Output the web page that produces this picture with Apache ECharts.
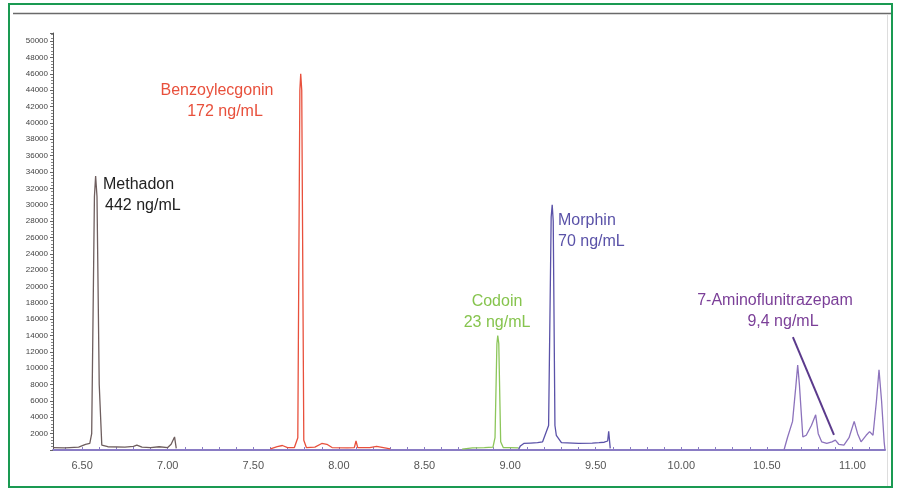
<!DOCTYPE html>
<html>
<head>
<meta charset="utf-8">
<script src="https://cdn.jsdelivr.net/npm/echarts@6/dist/echarts.min.js"></script>
<style>html,body{margin:0;padding:0;background:#fff}#c{width:898px;height:492px}</style>
</head>
<body>
<div id="c"></div>
<script>
// ---- data (retention time in min, intensity) ----
const methadonT = [6.33, 6.40, 6.48, 6.52, 6.545, 6.556, 6.572, 6.579, 6.587, 6.60, 6.615, 6.65, 6.75, 6.80, 6.82, 6.85, 6.90, 6.95, 7.00, 7.02, 7.04, 7.05];
const methadonI = [300, 250, 350, 700, 800, 2000, 31000, 33500, 31000, 8000, 600, 400, 350, 450, 600, 350, 300, 400, 300, 700, 1600, 200];

const benzoT = [7.60, 7.64, 7.67, 7.70, 7.74, 7.76, 7.772, 7.777, 7.783, 7.795, 7.81, 7.86, 7.90, 7.93, 7.96, 8.05, 8.09, 8.10, 8.11, 8.18, 8.22, 8.26, 8.30];
const benzoI = [150, 400, 550, 300, 300, 1500, 44000, 46000, 44000, 1200, 300, 350, 800, 700, 300, 250, 300, 1100, 300, 300, 450, 300, 150];

const codoinT = [8.72, 8.78, 8.85, 8.90, 8.912, 8.923, 8.928, 8.934, 8.945, 8.96, 9.00, 9.05];
const codoinI = [100, 250, 300, 350, 1500, 13000, 14000, 13000, 1000, 300, 300, 250];

const morphinT = [9.05, 9.06, 9.08, 9.12, 9.16, 9.19, 9.20, 9.225, 9.240, 9.246, 9.252, 9.262, 9.27, 9.28, 9.30, 9.40, 9.48, 9.52, 9.55, 9.57, 9.576, 9.585];
const morphinI = [100, 500, 800, 850, 900, 1000, 1200, 3000, 28500, 30000, 28000, 3000, 1800, 1600, 900, 800, 850, 900, 950, 1100, 2300, 200];

const aminoT = [10.60, 10.62, 10.65, 10.67, 10.68, 10.69, 10.71, 10.73, 10.76, 10.785, 10.80, 10.82, 10.85, 10.88, 10.90, 10.92, 10.95, 10.98, 11.01, 11.03, 11.05, 11.08, 11.10, 11.12, 11.14, 11.155, 11.17, 11.185, 11.19];
const aminoI = [0, 1500, 3500, 8000, 10400, 8000, 1600, 1800, 3000, 4300, 2000, 1000, 800, 1000, 1200, 700, 600, 1500, 3500, 2000, 1000, 1800, 2250, 1800, 6000, 9800, 6000, 1000, 0];

const xLabelValues = [6.5, 7.0, 7.5, 8.0, 8.5, 9.0, 9.5, 10.0, 10.5, 11.0];
const xTickValues = [6.4, 6.5, 6.6, 6.7, 6.8, 6.9, 7.0, 7.1, 7.2, 7.3, 7.4, 7.5, 7.6, 7.7, 7.8, 7.9, 8.0, 8.1, 8.2, 8.3, 8.4, 8.5, 8.6, 8.7, 8.8, 8.9, 9.0, 9.1, 9.2, 9.3, 9.4, 9.5, 9.6, 9.7, 9.8, 9.9, 10.0, 10.1, 10.2, 10.3, 10.4, 10.5, 10.6, 10.7, 10.8, 10.9, 11.0, 11.1];

const annotations = [
  ["Methadon", "442 ng/mL"],
  ["Benzoylecgonin", "172 ng/mL"],
  ["Codoin", "23 ng/mL"],
  ["Morphin", "70 ng/mL"],
  ["7-Aminoflunitrazepam", "9,4 ng/mL"]
];
const pointerLine = [[10.652, 13800], [10.892, 1850]];

const zip = (t, v) => t.map((x, i) => [x, v[i]]);
const FONT = '"Liberation Sans", Arial, sans-serif';

function lineSeries(name, data, color, extra) {
  return Object.assign({
    name, type: 'line', data, symbol: 'none', smooth: false,
    lineStyle: { color, width: 1.3 }, z: 3
  }, extra || {});
}

const chart = echarts.init(document.getElementById('c'), null, { renderer: 'canvas' });
chart.setOption({
  backgroundColor: '#fff',
  animation: false,
  grid: { left: 53, right: 13, top: 33, bottom: 42 },
  xAxis: {
    type: 'value', min: 6.33, max: 11.19,
    axisLine: { lineStyle: { color: '#8a7cc4', width: 2 } },
    axisTick: { show: true, customValues: xTickValues, length: 3, inside: true, lineStyle: { color: '#8a7cc4' } },
    axisLabel: { customValues: xLabelValues, formatter: v => v.toFixed(2), color: '#555', fontSize: 11, fontFamily: FONT, margin: 10 },
    splitLine: { show: false }
  },
  yAxis: {
    type: 'value', min: 0, max: 51000, interval: 2000,
    axisLine: { show: true, lineStyle: { color: '#555', width: 1 } },
    axisTick: { show: true, length: 3, lineStyle: { color: '#666' } },
    minorTick: { show: true, splitNumber: 5, length: 2, lineStyle: { color: '#888' } },
    axisLabel: { formatter: v => (v === 0 || v > 50000) ? '' : String(v), color: '#444', fontSize: 8, fontFamily: FONT, margin: 5 },
    splitLine: { show: false }
  },
  series: [
    lineSeries('Methadon', zip(methadonT, methadonI), '#6e5e5e'),
    lineSeries('Benzoylecgonin', zip(benzoT, benzoI), '#e8503c'),
    lineSeries('Codoin', zip(codoinT, codoinI), '#8cc65a'),
    lineSeries('Morphin', zip(morphinT, morphinI), '#5a52a8'),
    lineSeries('7-Aminoflunitrazepam', zip(aminoT, aminoI), '#8c72bc', {
      markLine: {
        symbol: 'none', silent: true, label: { show: false },
        lineStyle: { color: '#5b3a8c', width: 2, type: 'solid' },
        data: [[{ coord: pointerLine[0] }, { coord: pointerLine[1] }]]
      }
    })
  ],
  graphic: [
    { type: 'rect', shape: { x: 9, y: 4, width: 883, height: 483 }, style: { fill: 'none', stroke: '#1a9a52', lineWidth: 2 }, silent: true },
    { type: 'line', shape: { x1: 13, y1: 13.5, x2: 891, y2: 13.5 }, style: { stroke: '#6a6a6a', lineWidth: 1.5 }, silent: true },
    { type: 'line', shape: { x1: 887.5, y1: 15, x2: 887.5, y2: 486 }, style: { stroke: '#dddddd', lineWidth: 1 }, silent: true },
    { type: 'text', left: 103, top: 177, style: { text: annotations[0][0], fill: '#222', font: '16px ' + FONT } },
    { type: 'text', left: 105, top: 198, style: { text: annotations[0][1], fill: '#222', font: '16px ' + FONT } },
    { type: 'text', x: 217, y: 91, style: { text: annotations[1][0], fill: '#e8503c', font: '16px ' + FONT, textAlign: 'center', textVerticalAlign: 'middle' } },
    { type: 'text', x: 225, y: 112, style: { text: annotations[1][1], fill: '#e8503c', font: '16px ' + FONT, textAlign: 'center', textVerticalAlign: 'middle' } },
    { type: 'text', x: 497, y: 302, style: { text: annotations[2][0], fill: '#86c44e', font: '16px ' + FONT, textAlign: 'center', textVerticalAlign: 'middle' } },
    { type: 'text', x: 497, y: 323, style: { text: annotations[2][1], fill: '#86c44e', font: '16px ' + FONT, textAlign: 'center', textVerticalAlign: 'middle' } },
    { type: 'text', left: 558, top: 213, style: { text: annotations[3][0], fill: '#5a52a8', font: '16px ' + FONT } },
    { type: 'text', left: 558, top: 234, style: { text: annotations[3][1], fill: '#5a52a8', font: '16px ' + FONT } },
    { type: 'text', x: 775, y: 301, style: { text: annotations[4][0], fill: '#7b3f98', font: '16px ' + FONT, textAlign: 'center', textVerticalAlign: 'middle' } },
    { type: 'text', x: 783, y: 322, style: { text: annotations[4][1], fill: '#7b3f98', font: '16px ' + FONT, textAlign: 'center', textVerticalAlign: 'middle' } }
  ]
});
</script>
</body>
</html>
